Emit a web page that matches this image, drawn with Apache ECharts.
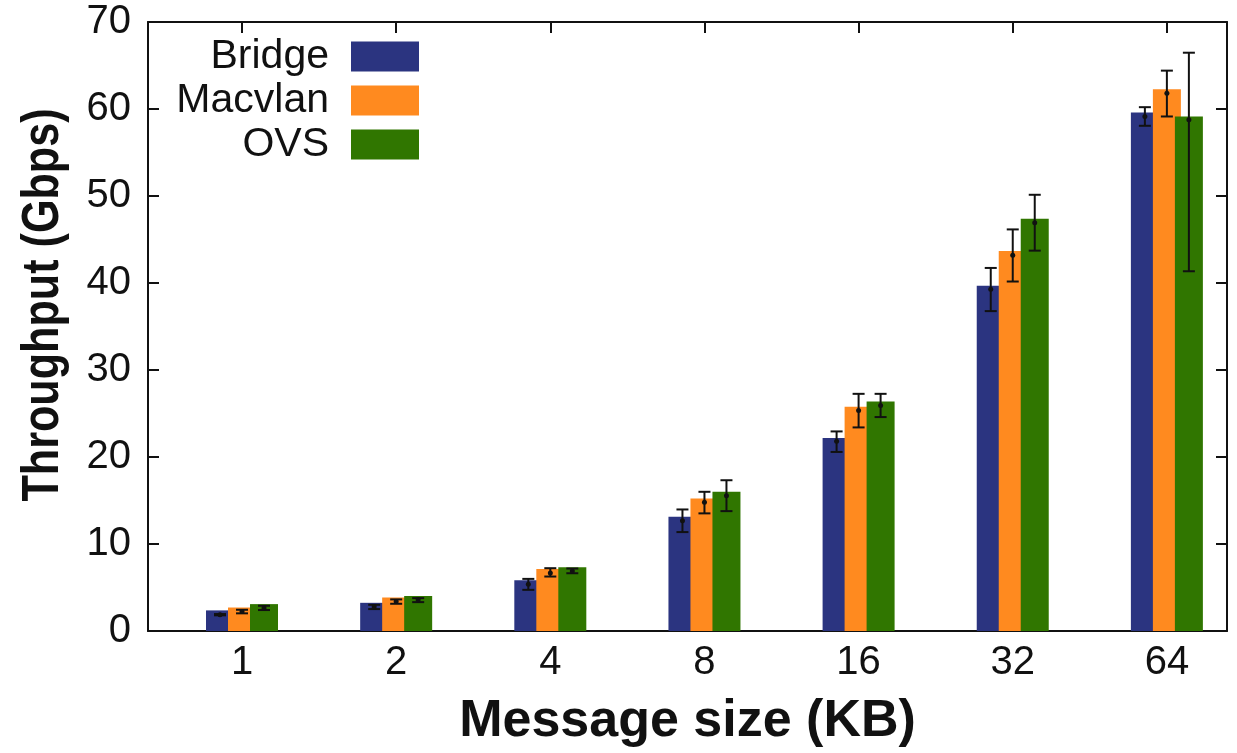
<!DOCTYPE html>
<html><head><meta charset="utf-8">
<script src="https://cdn.jsdelivr.net/npm/echarts@6/dist/echarts.min.js"></script>
<style>html,body{margin:0;padding:0;background:#fff}#c{width:1237px;height:753px}</style>
</head><body><div id="c"></div>
<script>
const categories = ['1', '2', '4', '8', '16', '32', '64'];
const seriesNames = ['Bridge', 'Macvlan', 'OVS'];
const seriesColors = ['#2b3480', '#ff8a1f', '#307600'];

// bar heights as drawn
const bridgeBar  = [2.37, 3.24, 5.84, 13.14, 22.19, 39.67, 59.60];
const macvlanBar = [2.70, 3.86, 7.14, 15.23, 25.77, 43.68, 62.28];
const ovsBar     = [3.09, 4.01, 7.33, 16.00, 26.38, 47.39, 59.14];

// error bars: mean point, low and high
const bridgeMean  = [1.87, 2.78, 5.38, 12.68, 21.80, 39.29, 59.14];
const bridgeLow   = [1.80, 2.52, 4.73, 11.37, 20.58, 36.77, 58.07];
const bridgeHigh  = [1.95, 3.01, 5.99, 13.97, 22.94, 41.73, 60.21];

const macvlanMean = [2.25, 3.40, 6.68, 14.81, 25.35, 43.18, 61.82];
const macvlanLow  = [2.03, 3.13, 6.26, 13.52, 23.40, 40.17, 59.14];
const macvlanHigh = [2.44, 3.63, 7.22, 16.00, 27.26, 46.16, 64.41];

const ovsMean     = [2.63, 3.59, 6.91, 15.54, 25.92, 46.93, 58.76];
const ovsLow      = [2.41, 3.32, 6.64, 13.78, 24.59, 43.72, 41.35];
const ovsHigh     = [2.90, 3.78, 7.18, 17.33, 27.26, 50.14, 66.47];

const yMin = 0, yMax = 70, yStep = 10;
const xTitle = 'Message size (KB)';
const yTitle = 'Throughput (Gbps)';

const FONT = 'Liberation Sans';
const catIdx = categories.map((c, i) => i);
const BAR_W = 28, BAR_STEP = 22;
const offsets = [-BAR_STEP, 0, BAR_STEP];

const bars = [bridgeBar, macvlanBar, ovsBar];
const means = [bridgeMean, macvlanMean, ovsMean];
const lows = [bridgeLow, macvlanLow, ovsLow];
const highs = [bridgeHigh, macvlanHigh, ovsHigh];

const chart = echarts.init(document.getElementById('c'), null, {renderer: 'canvas'});

const axisLineStyle = {color: '#111', width: 2};

const barSeries = seriesNames.map((name, s) => ({
  name: name,
  type: 'bar',
  xAxisIndex: 0, yAxisIndex: 0,
  barWidth: BAR_W,
  barGap: ((BAR_STEP - BAR_W) / BAR_W * 100) + '%',
  data: bars[s].map((v, i) => [i, v]),
  itemStyle: {color: seriesColors[s]},
  emphasis: {disabled: true},
  z: 2
}));

const errSeries = seriesNames.map((name, s) => ({
  name: name + ' error',
  type: 'custom',
  xAxisIndex: 0, yAxisIndex: 0,
  data: means[s].map((v, i) => [i, lows[s][i], highs[s][i], v]),
  encode: {x: 0, y: [1, 2, 3]},
  z: 5,
  silent: true,
  renderItem: function (params, api) {
    const i = api.value(0);
    const pLo = api.coord([i, api.value(1)]);
    const pHi = api.coord([i, api.value(2)]);
    const pM = api.coord([i, api.value(3)]);
    const x = pLo[0] + offsets[s];
    const st = {stroke: '#111', lineWidth: 2};
    return {type: 'group', children: [
      {type: 'line', shape: {x1: x, y1: pLo[1], x2: x, y2: pHi[1]}, style: st},
      {type: 'line', shape: {x1: x - 6, y1: pLo[1], x2: x + 6, y2: pLo[1]}, style: st},
      {type: 'line', shape: {x1: x - 6, y1: pHi[1], x2: x + 6, y2: pHi[1]}, style: st},
      {type: 'circle', shape: {cx: x, cy: pM[1], r: 2.5}, style: {fill: '#111'}}
    ]};
  }
}));

const xCommon = {
  type: 'value', min: -0.61, max: 6.39,
  axisLine: {show: true, onZero: false, lineStyle: axisLineStyle},
  axisTick: {show: true, inside: true, length: 11, customValues: catIdx, lineStyle: axisLineStyle},
  splitLine: {show: false}
};
const yCommon = {
  type: 'value', min: yMin, max: yMax, interval: yStep,
  axisLine: {show: true, onZero: false, lineStyle: axisLineStyle},
  axisTick: {show: true, inside: true, length: 11, lineStyle: axisLineStyle},
  splitLine: {show: false}
};

chart.setOption({
  animation: false,
  backgroundColor: '#fff',
  textStyle: {fontFamily: FONT},
  grid: {left: 148, right: 10, top: 22, bottom: 120, containLabel: false},
  legend: {
    data: seriesNames,
    orient: 'vertical',
    align: 'right',
    right: 818, top: 36,
    padding: 0,
    icon: 'rect',
    itemWidth: 68, itemHeight: 30, itemGap: 3,
    itemStyle: {borderWidth: 0},
    textStyle: {fontFamily: FONT, fontSize: 41, color: '#111', padding: [0, 17, 0, 0]},
    selectedMode: false
  },
  xAxis: [
    Object.assign({}, xCommon, {
      position: 'bottom',
      axisLabel: {show: true, customValues: catIdx, formatter: v => categories[Math.round(v)],
        fontFamily: FONT, fontSize: 40, color: '#111', margin: 12},
      name: xTitle, nameLocation: 'middle', nameGap: 65,
      nameTextStyle: {fontFamily: FONT, fontSize: 52, fontWeight: 'bold', color: '#111'}
    }),
    Object.assign({}, xCommon, {position: 'top', axisLabel: {show: false}})
  ],
  yAxis: [
    Object.assign({}, yCommon, {position: 'left',
      axisLabel: {fontFamily: FONT, fontSize: 40, color: '#111', margin: 17}}),
    Object.assign({}, yCommon, {position: 'right', axisLabel: {show: false}})
  ],
  graphic: [{
    type: 'text', x: 44, y: 305, rotation: Math.PI / 2, scaleX: 0.83,
    style: {text: yTitle, font: 'bold 52px "' + FONT + '"', fill: '#111', align: 'center', verticalAlign: 'middle'}
  }],
  series: barSeries.concat(errSeries)
});
</script></body></html>
